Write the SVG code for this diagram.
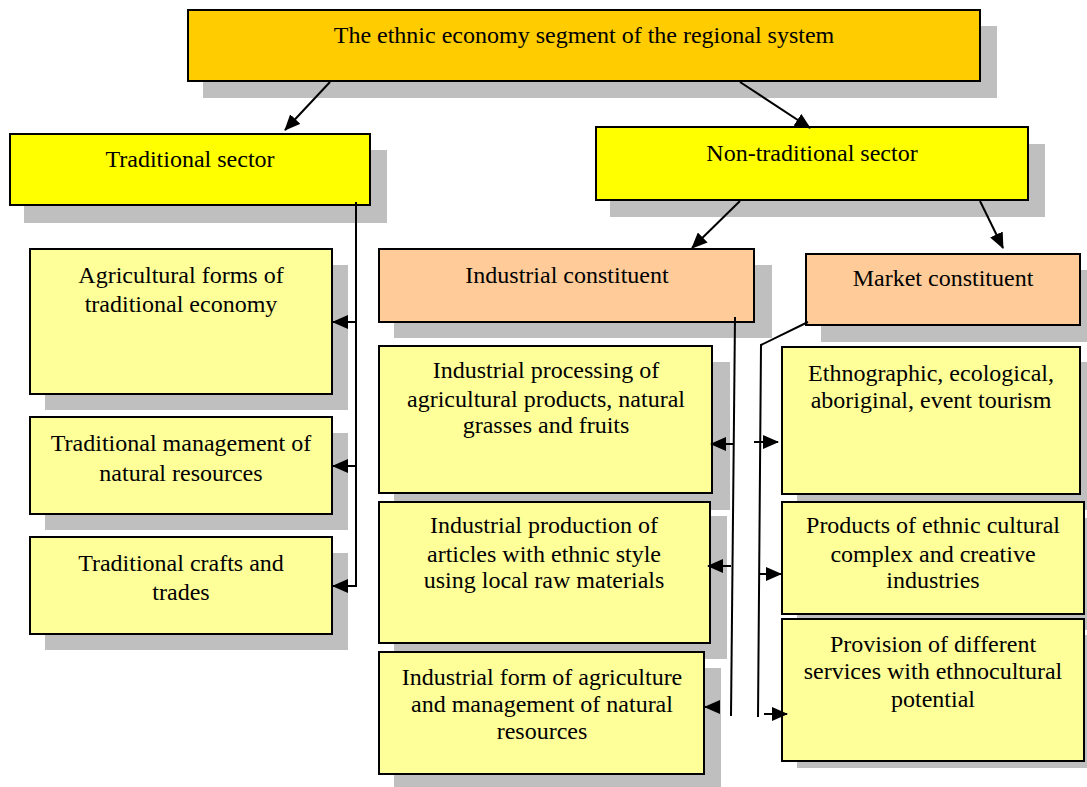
<svg xmlns="http://www.w3.org/2000/svg" width="1087" height="787" viewBox="0 0 1087 787">
<style>
.sh{fill:#bfbfbf;stroke:none}
.b{stroke:#000;stroke-width:2}
.top{fill:#ffcc00}
.sec{fill:#ffff00}
.con{fill:#ffcc99}
.leaf{fill:#ffff99}
text{font-family:"Liberation Serif","Times New Roman",serif;font-size:24px;fill:#000;text-anchor:middle}
.c{fill:none;stroke:#000;stroke-width:2}
</style>
<defs>
<marker id="ah" markerUnits="userSpaceOnUse" markerWidth="16" markerHeight="14" refX="15" refY="7" orient="auto">
<path d="M0,0 L16,7 L0,14 Z" fill="#000"/>
</marker>
</defs>
<rect width="1087" height="787" fill="#fff"/>
<g id="n-top">
<rect class="sh" x="203" y="26" width="794" height="72"/>
<rect class="b top" x="188" y="10" width="792" height="71"/>
<text x="584" y="43">The ethnic economy segment of the regional system</text>
</g>
<g id="n-trad">
<rect class="sh" x="24" y="150" width="363" height="73"/>
<rect class="b sec" x="10" y="134" width="360" height="71"/>
<text x="190" y="167">Traditional sector</text>
</g>
<g id="n-nontrad">
<rect class="sh" x="610" y="144" width="435" height="73"/>
<rect class="b sec" x="596" y="127" width="432" height="73"/>
<text x="812" y="161">Non-traditional sector</text>
</g>
<g id="n-agri">
<rect class="sh" x="45" y="265" width="303" height="145"/>
<rect class="b leaf" x="30" y="249" width="302" height="145"/>
<text x="181" y="283">Agricultural forms of</text>
<text x="181" y="312">traditional economy</text>
</g>
<g id="n-mgmt">
<rect class="sh" x="45" y="433" width="303" height="97"/>
<rect class="b leaf" x="30" y="417" width="302" height="97"/>
<text x="181" y="451">Traditional management of</text>
<text x="181" y="481">natural resources</text>
</g>
<g id="n-crafts">
<rect class="sh" x="45" y="553" width="303" height="97"/>
<rect class="b leaf" x="30" y="537" width="302" height="97"/>
<text x="181" y="571">Traditional crafts and</text>
<text x="181" y="600">trades</text>
</g>
<g id="n-ind">
<rect class="sh" x="394" y="265" width="378" height="73"/>
<rect class="b con" x="379" y="249" width="375" height="73"/>
<text x="567" y="283">Industrial constituent</text>
</g>
<g id="n-market">
<rect class="sh" x="821" y="270" width="266" height="72"/>
<rect class="b con" x="806" y="254" width="274" height="71"/>
<text x="943" y="286">Market constituent</text>
</g>
<g id="n-proc">
<rect class="sh" x="394" y="362" width="336" height="148"/>
<rect class="b leaf" x="379" y="346" width="333" height="147"/>
<text x="546" y="378">Industrial processing of</text>
<text x="546" y="407">agricultural products, natural</text>
<text x="546" y="433">grasses and fruits</text>
</g>
<g id="n-prod">
<rect class="sh" x="394" y="516" width="333" height="143"/>
<rect class="b leaf" x="379" y="502" width="331" height="141"/>
<text x="544" y="533">Industrial production of</text>
<text x="544" y="562">articles with ethnic style</text>
<text x="544" y="588">using local raw materials</text>
</g>
<g id="n-form">
<rect class="sh" x="394" y="668" width="327" height="119"/>
<rect class="b leaf" x="379" y="652" width="325" height="122"/>
<text x="542" y="685">Industrial form of agriculture</text>
<text x="542" y="712">and management of natural</text>
<text x="542" y="739">resources</text>
</g>
<g id="n-tour">
<rect class="sh" x="797" y="362" width="290" height="148"/>
<rect class="b leaf" x="782" y="347" width="298" height="147"/>
<text x="931" y="381">Ethnographic, ecological,</text>
<text x="931" y="408">aboriginal, event tourism</text>
</g>
<g id="n-cult">
<rect class="sh" x="797" y="518" width="290" height="112"/>
<rect class="b leaf" x="782" y="502" width="302" height="112"/>
<text x="933" y="533">Products of ethnic cultural</text>
<text x="933" y="562">complex and creative</text>
<text x="933" y="588">industries</text>
</g>
<g id="n-serv">
<rect class="sh" x="797" y="635" width="290" height="133"/>
<rect class="b leaf" x="782" y="619" width="302" height="142"/>
<text x="933" y="652">Provision of different</text>
<text x="933" y="679">services with ethnocultural</text>
<text x="933" y="707">potential</text>
</g>
<g id="connectors">
<line class="c" x1="330" y1="82" x2="285" y2="130" marker-end="url(#ah)"/>
<line class="c" x1="740" y1="82" x2="810" y2="128" marker-end="url(#ah)"/>
<line class="c" x1="740" y1="201" x2="692" y2="248" marker-end="url(#ah)"/>
<line class="c" x1="980" y1="201" x2="1003" y2="248" marker-end="url(#ah)"/>
<polyline class="c" points="356,202 356,586"/>
<line class="c" x1="356" y1="322" x2="333" y2="322" marker-end="url(#ah)"/>
<line class="c" x1="356" y1="466" x2="333" y2="466" marker-end="url(#ah)"/>
<line class="c" x1="357" y1="586" x2="333" y2="586" marker-end="url(#ah)"/>
<polyline class="c" points="735,317 731,716"/>
<line class="c" x1="734" y1="444" x2="711" y2="444" marker-end="url(#ah)"/>
<line class="c" x1="731" y1="566" x2="708" y2="566" marker-end="url(#ah)"/>
<line class="c" x1="720" y1="707" x2="705" y2="707" marker-end="url(#ah)"/>
<polyline class="c" points="808,322 761,345 758,717"/>
<line class="c" x1="754" y1="442" x2="778" y2="442" marker-end="url(#ah)"/>
<line class="c" x1="760" y1="574" x2="781" y2="574" marker-end="url(#ah)"/>
<line class="c" x1="764" y1="714" x2="787" y2="714" marker-end="url(#ah)"/>
</g>
</svg>
